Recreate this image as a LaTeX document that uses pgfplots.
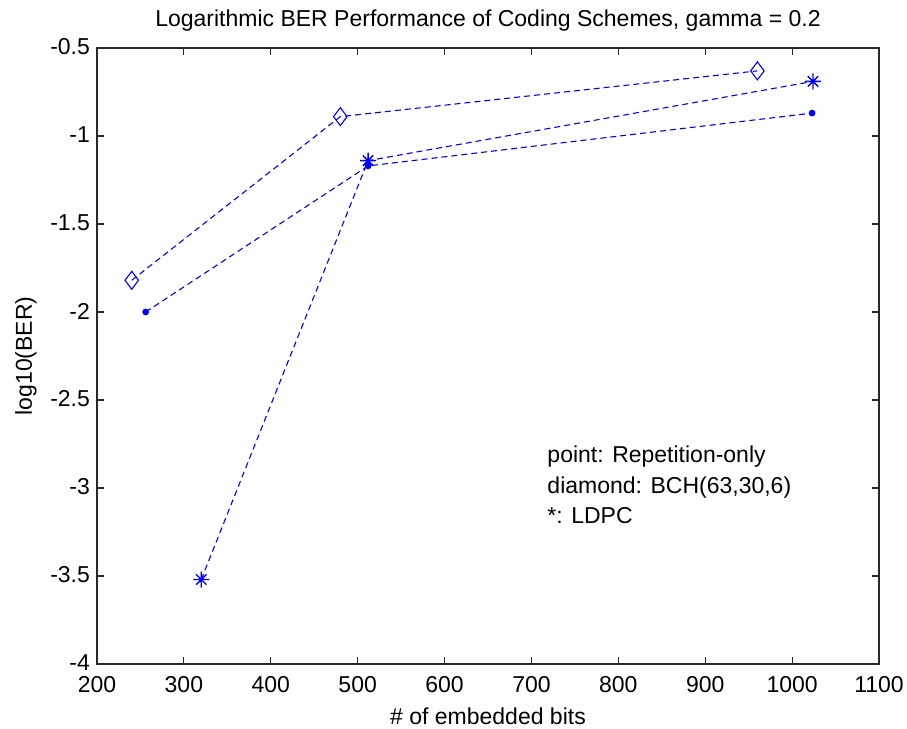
\documentclass[border=0pt]{standalone}
\usepackage{fontspec}
\setmainfont{Liberation Sans}
\usepackage{pgfplots}
\pgfplotsset{compat=1.18}
\definecolor{mblue}{RGB}{0,0,255}
\definecolor{axgray}{RGB}{40,40,40}

% MATLAB-style '*' marker: a plus and a cross on top of each other
\pgfdeclareplotmark{mstar}{%
  \pgfpathmoveto{\pgfqpoint{-\pgfplotmarksize}{0pt}}%
  \pgfpathlineto{\pgfqpoint{\pgfplotmarksize}{0pt}}%
  \pgfpathmoveto{\pgfqpoint{0pt}{-\pgfplotmarksize}}%
  \pgfpathlineto{\pgfqpoint{0pt}{\pgfplotmarksize}}%
  \pgfpathmoveto{\pgfqpoint{-0.65\pgfplotmarksize}{-0.65\pgfplotmarksize}}%
  \pgfpathlineto{\pgfqpoint{0.65\pgfplotmarksize}{0.65\pgfplotmarksize}}%
  \pgfpathmoveto{\pgfqpoint{-0.65\pgfplotmarksize}{0.65\pgfplotmarksize}}%
  \pgfpathlineto{\pgfqpoint{0.65\pgfplotmarksize}{-0.65\pgfplotmarksize}}%
  \pgfusepathqstroke}

\begin{document}
\begin{tikzpicture}
\begin{axis}[
    scale only axis,
    width=391pt, height=308pt,
    xmin=200, xmax=1100,
    ymin=-4, ymax=-0.5,
    xtick={200,300,...,1100},
    ytick={-4,-3.5,-3,-2.5,-2,-1.5,-1,-0.5},
    yticklabels={-4,-3.5,-3,-2.5,-2,-1.5,-1,-0.5},
    /pgf/number format/assume math mode=true,
    /pgf/number format/1000 sep={},
    tick align=inside,
    major tick length=3.5pt,
    axis line style={axgray, line width=0.6pt},
    tick style={axgray, line width=0.6pt},
    font=\fontsize{11.5}{13}\selectfont,
    ticklabel style={font=\fontsize{11.5}{13}\selectfont},
    xticklabel style={yshift=-2.5pt},
    yticklabel style={yshift=0.5pt},
    title={Logarithmic BER Performance of Coding Schemes, gamma = 0.2},
    title style={yshift=-1pt},
    xlabel={\# of embedded bits},
    xlabel style={yshift=-1pt},
    ylabel={log10(BER)},
    every axis plot/.append style={mblue, line width=0.55pt, dash pattern=on 3pt off 2pt},
]
% point: repetition-only
\addplot[mark=*, mark size=1.4pt, mark options={solid, fill=mblue}] coordinates {
    (256,-2.0) (512,-1.17) (1023,-0.87)};
% diamond: BCH(63,30,6)
\addplot[mark=diamond, mark size=4.5pt, mark options={solid}] coordinates {
    (240,-1.82) (480,-0.89) (960,-0.63)};
% asterisk: LDPC
\addplot[mark=mstar, mark size=4pt, mark options={solid, line width=0.7pt}] coordinates {
    (320,-3.52) (512,-1.14) (1024,-0.69)};

\node[anchor=west, inner sep=0pt] at (axis cs:718,-2.82) {point: Repetition-only};
\node[anchor=west, inner sep=0pt] at (axis cs:718,-2.995) {diamond: BCH(63,30,6)};
\node[anchor=west, inner sep=0pt] at (axis cs:718,-3.155) {*: LDPC};
\end{axis}
\pgfresetboundingbox
\path ([shift={(-48.5pt,-32.5pt)}]current axis.south west) rectangle ([shift={(14pt,24pt)}]current axis.north east);
\end{tikzpicture}
\end{document}
